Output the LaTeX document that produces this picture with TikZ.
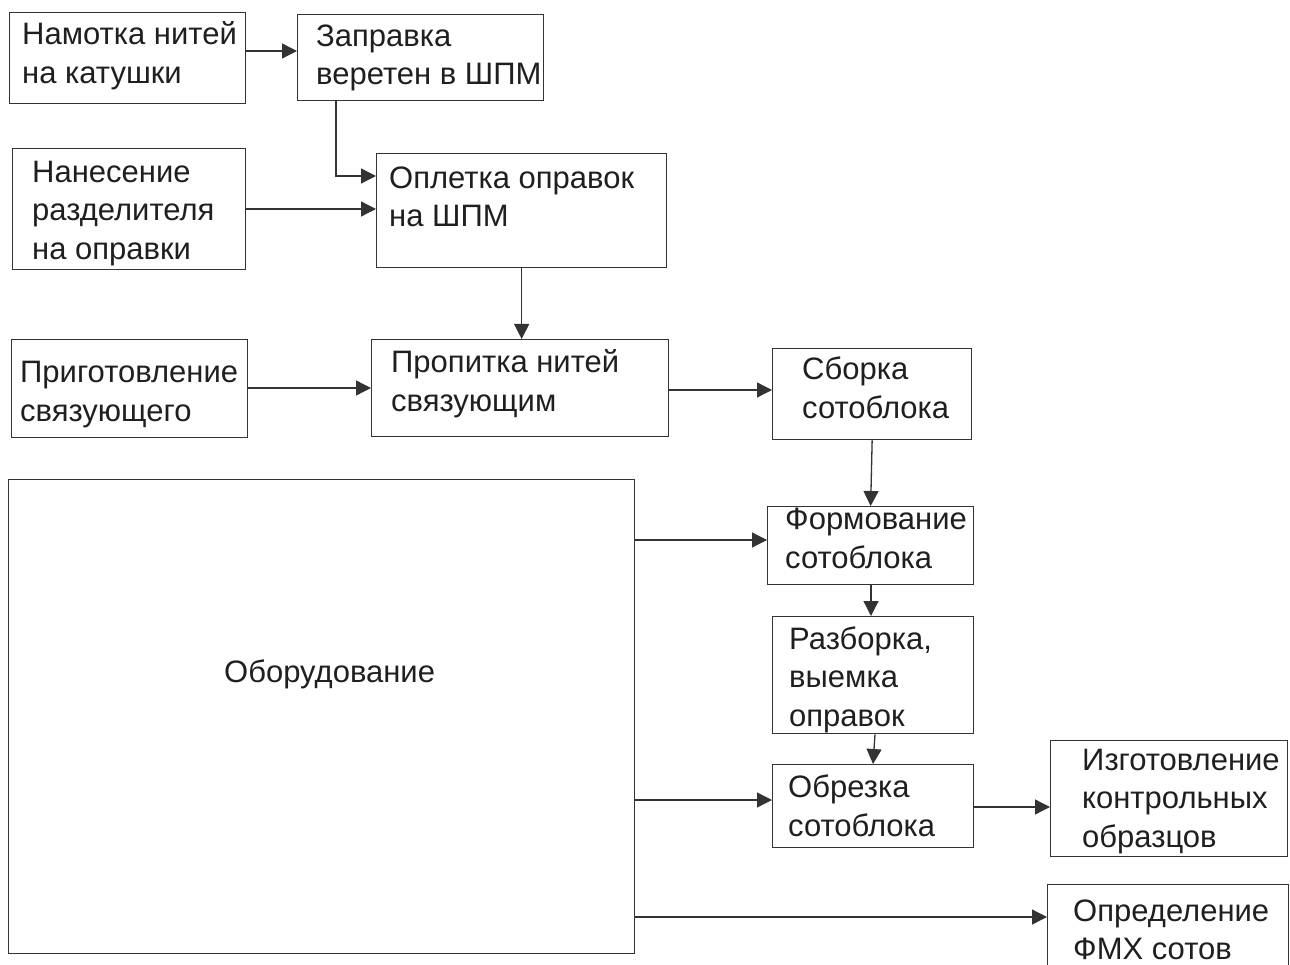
\documentclass[tikz,border=0pt]{standalone}
\usepackage{fontspec}
\setmainfont{Liberation Sans}
\usetikzlibrary{arrows.meta}
\begin{document}
\begin{tikzpicture}[x=1pt,y=-1pt,
  box/.style={draw=black!80, line width=1.3pt, rectangle, inner sep=0pt, anchor=north west},
  txt/.style={inner sep=0pt, anchor=base west, align=left, text=black!88,
              font=\fontsize{31}{38.5}\selectfont},
  arr/.style={draw=black!80, line width=1.3pt, -{Triangle[length=15pt,width=15pt]}}]
\useasboundingbox (0,0) rectangle (1290,965);
\clip (0,0) rectangle (1290,965);
% boxes
\node[box, minimum width=236pt, minimum height=91pt]  (b1)  at (9,12)    {};
\node[box, minimum width=246pt, minimum height=86pt]  (b2)  at (297,14)  {};
\node[box, minimum width=233pt, minimum height=121pt] (b3)  at (12,148)  {};
\node[box, minimum width=290pt, minimum height=114pt] (b4)  at (376,153) {};
\node[box, minimum width=236pt, minimum height=98pt]  (b5)  at (11,339)  {};
\node[box, minimum width=297pt, minimum height=97pt]  (b6)  at (371,339) {};
\node[box, minimum width=199pt, minimum height=91pt]  (b7)  at (772,348) {};
\node[box, minimum width=626pt, minimum height=474pt] (b8)  at (8,479)   {};
\node[box, minimum width=206pt, minimum height=78pt]  (b9)  at (767,506) {};
\node[box, minimum width=201pt, minimum height=117pt] (b10) at (772,616) {};
\node[box, minimum width=201pt, minimum height=83pt]  (b11) at (772,764) {};
\node[box, minimum width=237pt, minimum height=116pt] (b12) at (1050,740) {};
\node[box, minimum width=241pt, minimum height=106pt] (b13) at (1047,884) {};
% texts (anchored at the baseline of the last line)
\node[txt] (t1)  at (22,83.5)  {Намотка нитей\\на катушки};
\node[txt] (t2)  at (316,85)   {Заправка\\веретен в ШПМ};
\node[txt] (t3)  at (32,259.5) {Нанесение\\разделителя\\на оправки};
\node[txt] (t4)  at (389,227)  {Оплетка оправок\\на ШПМ};
\node[txt] (t5)  at (20,421)   {Приготовление\\связующего};
\node[txt] (t6)  at (391,411)  {Пропитка нитей\\связующим};
\node[txt] (t7)  at (802,418)  {Сборка\\сотоблока};
\node[txt] (t8)  at (224,682)  {Оборудование};
\node[txt] (t9)  at (785,568)  {Формование\\сотоблока};
\node[txt] (t10) at (789,726)  {Разборка,\\выемка\\оправок};
\node[txt] (t11) at (788,836)  {Обрезка\\сотоблока};
\node[txt] (t12) at (1082,847) {Изготовление\\контрольных\\образцов};
\node[txt, font=\fontsize{31}{37.5}\selectfont] (t13) at (1073,959) {Определение\\ФМХ сотов};
% connectors
\draw[arr] (b1.east |- 0,51) -- (b2.west |- 0,51);
\draw[arr] ([xshift=39pt]b2.south west) |- (b4.west |- 0,176);
\draw[arr] (b3.east |- 0,209) -- (b4.west |- 0,209);
\draw[arr] (b4.south) -- (b4.south |- b6.north);
\draw[arr] (b5.east |- 0,388) -- (b6.west |- 0,388);
\draw[arr] (b6.east |- 0,390) -- (b7.west |- 0,390);
\draw[arr] (b7.south) -- (b9.north);
\draw[arr] (b8.east |- 0,540) -- (b9.west |- 0,540);
\draw[arr] (b9.south -| 871,0) -- (b10.north -| 871,0);
\draw[arr] (b10.south -| 875,0) -- (b11.north -| 873,0);
\draw[arr] (b8.east |- 0,800) -- (b11.west |- 0,800);
\draw[arr] (b11.east |- 0,807) -- (b12.west |- 0,807);
\draw[arr] (b8.east |- 0,917) -- (b13.west |- 0,917);
\end{tikzpicture}
\end{document}
